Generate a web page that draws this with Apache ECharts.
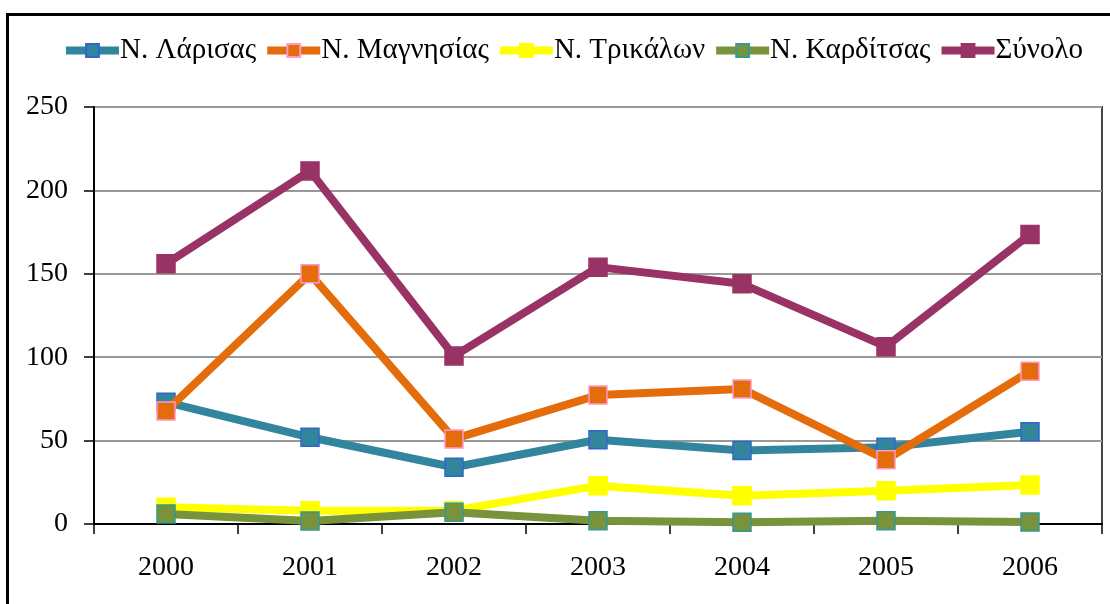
<!DOCTYPE html>
<html>
<head>
<meta charset="utf-8">
<script src="https://cdn.jsdelivr.net/npm/echarts@6/dist/echarts.min.js"></script>
<style>
html,body{margin:0;padding:0;background:#fff;}
#chart{width:1110px;height:604px;}
</style>
</head>
<body>
<div id="chart"></div>
<script>
const years = ['2000','2001','2002','2003','2004','2005','2006'];
const larisa = [73, 52, 34, 50.5, 44, 46, 55.3];
const magnisia = [67.7, 150, 51, 77.3, 81, 38.5, 91.6];
const trikala = [10, 8, 8, 23, 17, 20, 23.4];
const karditsa = [6, 1.8, 7, 2, 1, 2, 1.2];
const synolo = [156, 211.7, 100.7, 154, 144, 106.3, 173.6];
const yTicks = [0, 50, 100, 150, 200, 250];

const names = ['Ν. Λάρισας','Ν. Μαγνησίας','Ν. Τρικάλων','Ν. Καρδίτσας','Σύνολο'];
const colors = ['#31859c','#e46c0a','#ffff00','#77933c','#993366'];
const borders = ['#3366cc','#ff99cc','#ffff00','#339999','#993366'];
const datas = [larisa, magnisia, trikala, karditsa, synolo];

const font = 'Liberation Serif';
const chart = echarts.init(document.getElementById('chart'));
chart.setOption({
  animation: false,
  backgroundColor: '#fff',
  graphic: [{
    type: 'rect', left: 5, top: 12, z: 100,
    shape: {width: 1120, height: 620},
    style: {fill: 'none', stroke: '#000', lineWidth: 3}
  }],
  legend: {
    top: 31, left: 57,
    itemWidth: 53, itemHeight: 16, itemGap: 7,
    lineStyle: {width: 8},
    textStyle: {fontFamily: font, fontSize: 29, color: '#000', padding: [0,0,0,-4]},
    data: names
  },
  grid: {left: 94, right: 8, top: 107, bottom: 80, show: true, borderColor: '#444', borderWidth: 2, containLabel: false},
  xAxis: {
    type: 'category', data: years, boundaryGap: true,
    axisLine: {lineStyle: {color: '#000', width: 2}},
    axisTick: {show: true, length: 10, inside: false, lineStyle: {color: '#000', width: 1.5}},
    axisLabel: {fontFamily: font, fontSize: 28, color: '#000', margin: 30}
  },
  yAxis: {
    type: 'value', min: yTicks[0], max: yTicks[yTicks.length-1], interval: 50,
    axisLine: {show: true, lineStyle: {color: '#000', width: 2}},
    axisTick: {show: true, length: 10, lineStyle: {color: '#000', width: 1.5}},
    axisLabel: {fontFamily: font, fontSize: 28, color: '#000', margin: 26},
    splitLine: {lineStyle: {color: '#999', width: 2}}
  },
  series: names.map((n, i) => ({
    name: n, type: 'line', data: datas[i],
    symbol: 'rect', symbolSize: 18,
    lineStyle: {color: colors[i], width: 8},
    itemStyle: {color: colors[i], borderColor: borders[i], borderWidth: 1.5},
    z: 2 + i
  }))
});
</script>
</body>
</html>
